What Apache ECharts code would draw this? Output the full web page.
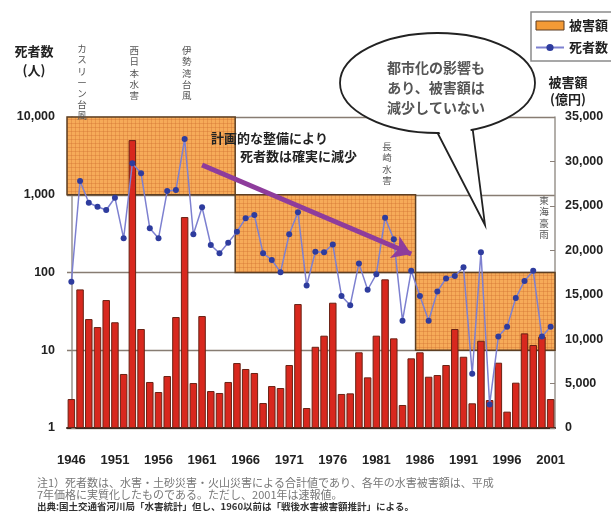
<!DOCTYPE html>
<html>
<head>
<meta charset="utf-8">
<script src="https://cdn.jsdelivr.net/npm/echarts@6/dist/echarts.min.js"></script>
<style>
html,body{margin:0;padding:0;background:#fff;}
#c{width:611px;height:512px;}
</style>
</head>
<body>
<div id="c"></div>
<script>
// 年（カテゴリ）
const years = ['1946','1947','1948','1949','1950','1951','1952','1953','1954','1955',
  '1956','1957','1958','1959','1960','1961','1962','1963','1964','1965',
  '1966','1967','1968','1969','1970','1971','1972','1973','1974','1975',
  '1976','1977','1978','1979','1980','1981','1982','1983','1984','1985',
  '1986','1987','1988','1989','1990','1991','1992','1993','1994','1995',
  '1996','1997','1998','1999','2000','2001'];

// 水害被害額（億円）
const damage = [3260, 15600, 12260, 11360, 14400, 11900, 6080, 32400, 11140, 5180,
  4050, 5850, 12490, 23740, 5060, 12600, 4160, 3940, 5180, 7310,
  6640, 6190, 2810, 4720, 4500, 7090, 13950, 2250, 9140, 10390,
  14100, 3830, 3900, 8520, 5700, 10390, 16730, 10090, 2590, 7840,
  8520, 5770, 5960, 7090, 11140, 8020, 2780, 9820, 3150, 7350,
  1840, 5100, 10650, 9340, 10280, 3260];

// 死者数（人）
const deaths = [76, 1500, 790, 700, 637, 916, 275, 2540, 1890, 370,
  275, 1117, 1150, 5210, 310, 690, 226, 177, 242, 335,
  498, 549, 177, 145, 101, 310, 595, 68, 185, 182,
  230, 50, 38, 131, 60, 95, 507, 267, 24, 105,
  50, 24, 57, 84, 90, 117, 5, 182, 2, 15,
  20, 47, 78, 105, 15, 20];

// 死者数の水準を示す区間（年の位置、死者数の上下限）
const bandStart = [-0.5, 18.8, 39.5];
const bandEnd   = [18.8, 39.5, 55.5];
const bandLow   = [1000, 100, 10];
const bandHigh  = [10000, 1000, 100];

// 矢印（減少傾向）の始点・終点
const trendFrom = ['1961', 2415];
const trendTo   = ['1985', 173];

// 主な災害
const eventNames = ['カスリーン台風', '西日本水害', '伊勢湾台風', '長崎水害', '東海豪雨'];
const eventYears = ['1947', '1953', '1959', '1982', '2000'];

const leftTicks = ['1', '10', '100', '1,000', '10,000'];

const JP = '"Noto Sans CJK JP", sans-serif';
const NUM = '"Liberation Sans", "Noto Sans CJK JP", sans-serif';

function gridPattern() {
  const c = document.createElement('canvas');
  c.width = 4; c.height = 4;
  const g = c.getContext('2d');
  g.fillStyle = '#f6ab59';
  g.fillRect(0, 0, 4, 4);
  g.fillStyle = 'rgba(205,110,45,0.35)';
  g.fillRect(3, 0, 1, 4);
  g.fillRect(0, 3, 4, 1);
  return c;
}

const bands = bandStart.map((s, i) => [
  { xAxis: s, yAxis: bandLow[i] },
  { xAxis: bandEnd[i], yAxis: bandHigh[i] }
]);

const chart = echarts.init(document.getElementById('c'));

chart.setOption({
  animation: false,
  backgroundColor: '#fff',
  grid: { left: 67, right: 56, top: 117, bottom: 84 },
  legend: {
    orient: 'vertical',
    left: 531, top: 12,
    padding: [7, 24, 7, 4],
    itemGap: 9,
    itemWidth: 28, itemHeight: 9,
    borderColor: '#8a8a8a', borderWidth: 1.5,
    backgroundColor: '#fff',
    textStyle: { fontFamily: JP, fontWeight: 'bold', fontSize: 13, color: '#222' },
    data: [
      { name: '被害額', icon: 'rect', itemStyle: { color: '#f39a36', borderColor: '#5a3a20', borderWidth: 1 } },
      { name: '死者数' }
    ]
  },
  xAxis: [
    {
      type: 'category', data: years, boundaryGap: true,
      axisLine: { lineStyle: { color: '#3a2a22', width: 2 } },
      axisTick: { show: false },
      axisLabel: { interval: 4, margin: 26, fontFamily: NUM, fontWeight: 'bold', fontSize: 13, color: '#222' }
    },
    { type: 'value', min: -0.5, max: 55.5, show: false }
  ],
  yAxis: [
    {
      type: 'log', logBase: 10, min: 1, max: 10000, position: 'left',
      axisLine: { show: true, lineStyle: { color: '#9a948e', width: 1.5 } },
      axisTick: { show: true, inside: true, length: 4, lineStyle: { color: '#8a8078' } },
      splitLine: { show: true, lineStyle: { color: '#877c72', width: 1.3 } },
      axisLabel: {
        margin: 12, fontFamily: NUM, fontWeight: 'bold', fontSize: 12.5, color: '#222',
        formatter: v => leftTicks[Math.round(Math.log10(v))]
      }
    },
    {
      type: 'value', min: 0, max: 35000, interval: 5000, position: 'right',
      axisLine: { show: true, lineStyle: { color: '#9a948e', width: 1.5 } },
      axisTick: { show: true, inside: true, length: 5, lineStyle: { color: '#8a8078' } },
      splitLine: { show: false },
      axisLabel: {
        margin: 10, fontFamily: NUM, fontWeight: 'bold', fontSize: 12.5, color: '#222',
        formatter: v => v.toLocaleString('en-US')
      }
    }
  ],
  series: [
    {
      name: '区間', type: 'line', xAxisIndex: 1, yAxisIndex: 0, data: [],
      silent: true, z: 1,
      markArea: {
        silent: true,
        itemStyle: {
          color: { image: gridPattern(), repeat: 'repeat' },
          borderColor: '#5e3f22', borderWidth: 1.5
        },
        data: bands
      }
    },
    {
      name: '被害額', type: 'bar', xAxisIndex: 0, yAxisIndex: 1, data: damage,
      barCategoryGap: '14%', z: 2,
      itemStyle: { color: '#d8281e', borderColor: '#6a2214', borderWidth: 1 }
    },
    {
      name: '死者数', type: 'line', xAxisIndex: 0, yAxisIndex: 0, data: deaths,
      symbol: 'circle', symbolSize: 6, showAllSymbol: true, z: 4,
      lineStyle: { color: '#7d80d0', width: 1.5 },
      itemStyle: { color: '#2e3c9e' },
      markLine: {
        silent: true,
        symbol: ['none', 'arrow'],
        symbolSize: 18,
        label: { show: false },
        lineStyle: { color: '#8e3c9c', width: 5, type: 'solid', opacity: 1 },
        data: [[{ coord: trendFrom }, { coord: trendTo }]]
      }
    }
  ]
});

// 注記類（軸名、災害名、吹き出し、脚注）
const gfx = [];
function txt(x, y, text, opt) {
  gfx.push({
    type: 'text', z: 50, silent: true,
    style: Object.assign({ x, y, text, fill: '#222', font: 'bold 13px ' + JP, align: 'left', verticalAlign: 'middle' }, opt || {})
  });
}

// 軸名
txt(34, 51, '死者数', { align: 'center' });
txt(34, 70, '(人)', { align: 'center' });
txt(568, 82, '被害額', { align: 'center' });
txt(568, 99, '(億円)', { align: 'center' });

// 災害名（縦書き）
const eventTop = [43, 45, 45, 141, 195];
eventNames.forEach((n, i) => {
  const x = chart.convertToPixel({ xAxisIndex: 0 }, eventYears[i]);
  txt(x + 2, eventTop[i], n.split('').join('\n'), {
    align: 'center', verticalAlign: 'top', font: '9.5px ' + JP, fill: '#555', lineHeight: 11.2
  });
});

// 減少傾向の説明
txt(211, 138, '計画的な整備により', { font: 'bold 13px ' + JP });
txt(240, 156, '死者数は確実に減少', { font: 'bold 13px ' + JP });

// 吹き出し
const L = [434, 126], T = [485, 225], R = [472, 124];
const along = (P, Q, y) => P[0] + (Q[0] - P[0]) * (y - P[1]) / (Q[1] - P[1]);
gfx.push({ type: 'polygon', z: 60, silent: true, shape: { points: [L, T, R] },
  style: { fill: '#fff', stroke: '#222', lineWidth: 1.8 } });
gfx.push({ type: 'ellipse', z: 61, silent: true, shape: { cx: 437.5, cy: 83, rx: 97.5, ry: 50 },
  style: { fill: '#fff', stroke: '#222', lineWidth: 1.8 } });
gfx.push({ type: 'polygon', z: 62, silent: true,
  shape: { points: [[along(L, T, 118) + 2.2, 118], [along(L, T, 150) + 2.2, 150], [along(R, T, 150) - 2.2, 150], [along(R, T, 118) - 2.2, 118]] },
  style: { fill: '#fff' } });
['都市化の影響も', 'あり、被害額は', '減少していない'].forEach((s, i) => {
  gfx.push({ type: 'text', z: 63, silent: true,
    style: { x: 436, y: 68 + i * 20, text: s, align: 'center', verticalAlign: 'middle', font: 'bold 14px ' + JP, fill: '#555' } });
});

// 脚注
txt(37, 483, '注1）死者数は、水害・土砂災害・火山災害による合計値であり、各年の水害被害額は、平成', { font: '11px ' + JP, fill: '#777' });
txt(37, 495, '7年価格に実質化したものである。ただし、2001年は速報値。', { font: '11px ' + JP, fill: '#777' });
txt(37, 506, '出典:国土交通省河川局「水害統計」但し、1960以前は「戦後水害被害額推計」による。', { font: 'bold 9.5px ' + JP, fill: '#333' });

chart.setOption({ graphic: gfx });
</script>
</body>
</html>
